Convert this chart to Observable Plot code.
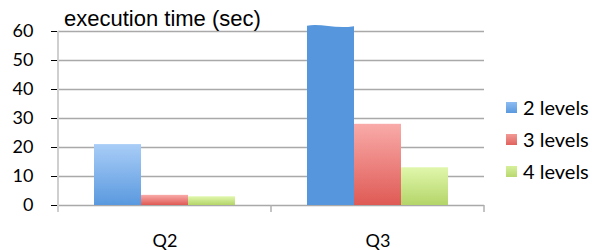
<!DOCTYPE html>
<html>
<head>
<meta charset="utf-8">
<script src="https://cdn.jsdelivr.net/npm/d3@7"></script>
<script src="https://cdn.jsdelivr.net/npm/@observablehq/plot@0.6"></script>
<style>
  html, body { margin: 0; padding: 0; background: #fff; }
  #wrap { position: relative; width: 592px; height: 250px; }
  #title { position: absolute; left: 64px; top: 6px; font-family: "Liberation Sans", Arial, sans-serif; font-size: 22px; color: #000; white-space: nowrap; }
  #legend { position: absolute; left: 506px; top: 0; font-family: Lato, "Liberation Sans", sans-serif; font-size: 20px; color: #000; }
  .item { position: absolute; left: 0; white-space: nowrap; display: flex; align-items: center; }
  .sw { width: 11px; height: 11px; margin-right: 6px; }
  [aria-label="y-axis tick"], [aria-label="y-axis"] line, [aria-label="y-axis"] path { stroke: #a9a9a9; }
</style>
</head>
<body>
<svg width="0" height="0" style="position:absolute">
  <defs>
    <linearGradient id="gBlue" x1="0" y1="0" x2="0" y2="1">
      <stop offset="0" stop-color="#a9cdf7"/>
      <stop offset="1" stop-color="#5a99df"/>
    </linearGradient>
    <linearGradient id="gRed" x1="0" y1="0" x2="0" y2="1">
      <stop offset="0" stop-color="#f9aba9"/>
      <stop offset="1" stop-color="#df5a55"/>
    </linearGradient>
    <linearGradient id="gGreen" x1="0" y1="0" x2="0" y2="1">
      <stop offset="0" stop-color="#e0f7ac"/>
      <stop offset="1" stop-color="#b4d569"/>
    </linearGradient>
  </defs>
</svg>
<div id="wrap">
  <div id="chart"></div>
  <div id="title"></div>
  <div id="legend"></div>
</div>
<script>
const categories = ["Q2", "Q3"];
const seriesNames = ["2 levels", "3 levels", "4 levels"];
const values2levels = [21, 62];
const values3levels = [3.5, 28];
const values4levels = [3, 13];
const yTicks = [0, 10, 20, 30, 40, 50, 60];
const yMax = 60;
const titleText = "execution time (sec)";
const fills = ["url(#gBlue)", "url(#gRed)", "url(#gGreen)"];
const swatches = [
  "linear-gradient(#8dbcf0, #5a99df)",
  "linear-gradient(#f29a96, #e0625d)",
  "linear-gradient(#d6f09a, #b8d86f)"
];
const brokenFill = "#5596dc";

const seriesValues = [values2levels, values3levels, values4levels];
const rows = [];
categories.forEach((c, i) => {
  seriesNames.forEach((s, j) => rows.push({cat: c, series: s, value: seriesValues[j][i]}));
});
const normalRows = rows.filter(d => d.value <= yMax);
const brokenRows = rows.filter(d => d.value > yMax);

const chart = Plot.plot({
  width: 592,
  height: 250,
  marginLeft: 57,
  marginRight: 108,
  marginTop: 31,
  marginBottom: 45,
  style: {fontFamily: "Lato, 'Liberation Sans', sans-serif", fontSize: "18px", background: "transparent", overflow: "visible", color: "#000"},
  fx: {domain: categories, padding: 0, label: null, tickSize: 0, tickPadding: 29},
  x: {domain: seriesNames, paddingInner: 0, paddingOuter: 0.72, axis: null},
  y: {domain: [0, yMax], ticks: yTicks, label: null, tickSize: 7, tickPadding: 18},
  color: {domain: seriesNames, range: fills},
  marks: [
    Plot.ruleY(yTicks, {stroke: "#a9a9a9", strokeWidth: 1.3}),
    Plot.barY(normalRows, {fx: "cat", x: "series", y: "value", fill: "series"}),
    Plot.barY(brokenRows, {fx: "cat", x: "series", y: "value", fill: brokenFill, ariaDescription: "broken-bar"})
  ]
});
document.getElementById("chart").appendChild(chart);

// axis line and category separators, positioned through Plot's scales
const svg = d3.select(chart.tagName.toLowerCase() === "svg" ? chart : chart.querySelector("svg"));
const fx = chart.scale("fx");
const y = chart.scale("y");
const y0 = y.apply(0);
const tick = 7;
const g = svg.append("g");
g.append("line")
  .attr("x1", fx.apply(categories[0])).attr("x2", fx.apply(categories[0]))
  .attr("y1", y.apply(yMax)).attr("y2", y0 + tick)
  .attr("stroke", "#cfcfcf").attr("stroke-width", 2);
categories.forEach(c => {
  const xr = fx.apply(c) + fx.bandwidth;
  g.append("line").attr("x1", xr).attr("x2", xr).attr("y1", y0).attr("y2", y0 + tick)
    .attr("stroke", "#b0b0b0").attr("stroke-width", 1.5);
});

// wavy top for the bar that exceeds the axis
const brokenRects = svg.selectAll('[aria-description="broken-bar"] rect').nodes();
const targets = brokenRects.length ? brokenRects :
  svg.selectAll("rect").nodes().filter(n => n.getAttribute("fill") === brokenFill);
targets.forEach(node => {
  const r = d3.select(node);
  const x = +r.attr("x"), yy = +r.attr("y"), w = +r.attr("width"), h = +r.attr("height");
  const p = d3.path();
  p.moveTo(x, yy + h);
  p.lineTo(x, yy + 0.5);
  p.bezierCurveTo(x + w * 0.3, yy - 2, x + w * 0.6, yy + 4, x + w, yy + 1);
  p.lineTo(x + w, yy + h);
  p.closePath();
  const fill = r.attr("fill") || node.parentNode.getAttribute("fill") || brokenFill;
  d3.select(node.parentNode).insert("path", () => node)
    .attr("d", p.toString()).attr("fill", fill);
  r.remove();
});

document.getElementById("title").textContent = titleText;
const legend = d3.select("#legend");
seriesNames.forEach((s, i) => {
  const it = legend.append("div").attr("class", "item").style("top", (95 + i * 32) + "px");
  it.append("div").attr("class", "sw").style("background", swatches[i]);
  it.append("span").text(s);
});
</script>
</body>
</html>
